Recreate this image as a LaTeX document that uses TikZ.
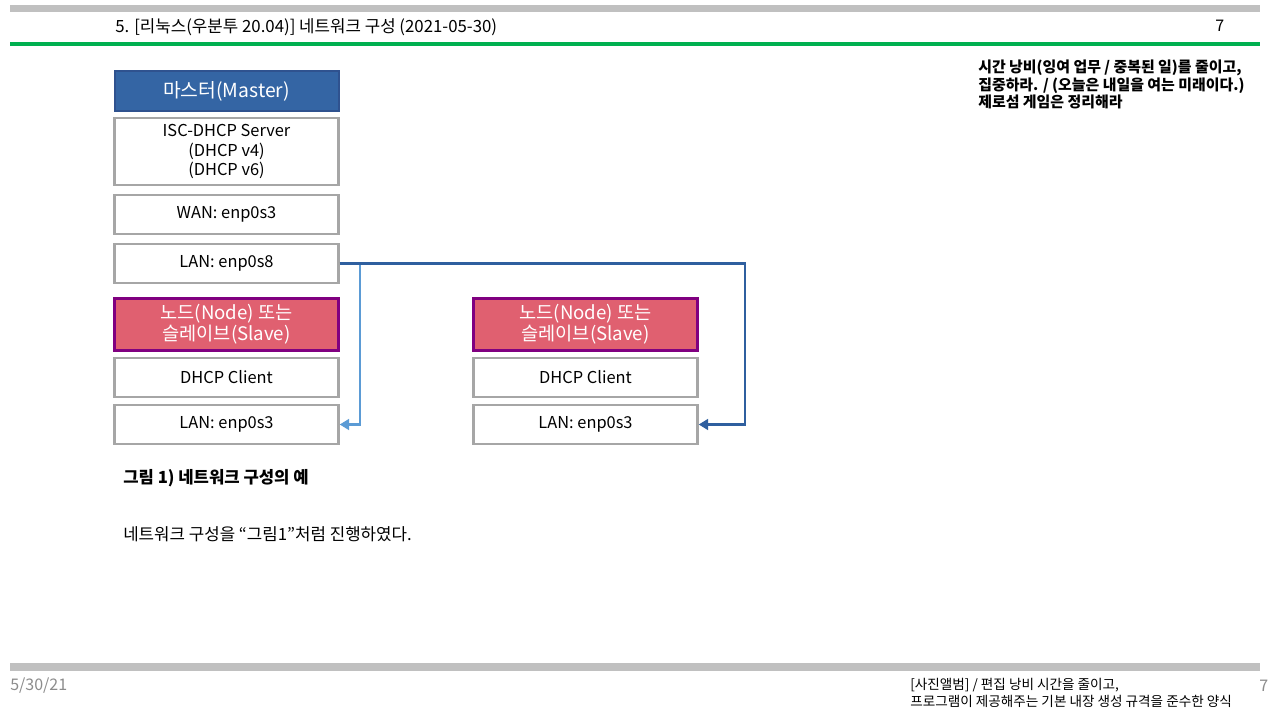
\documentclass[tikz,border=0pt]{standalone}
\usepackage{fontspec}
\setmainfont{Noto Sans CJK KR}
\usetikzlibrary{arrows.meta}
\definecolor{barg}{HTML}{C0C0C0}
\definecolor{grn}{HTML}{00B050}
\definecolor{mblue}{HTML}{3465A4}
\definecolor{mblueb}{HTML}{2F528F}
\definecolor{sred}{HTML}{E06070}
\definecolor{spurp}{HTML}{800080}
\definecolor{boxg}{HTML}{A6A6A6}
\definecolor{dblue}{HTML}{2F5F9F}
\definecolor{lblue}{HTML}{5B9BD5}
\definecolor{footg}{HTML}{8C8C8C}
\tikzset{
  box/.style={draw=boxg, line width=1.8pt, fill=white, minimum width=168pt, align=center, font=\fontsize{12.3}{14.3}\selectfont, inner sep=0pt},
  master/.style={draw=mblueb, line width=1.5pt, fill=mblue, text=white, minimum width=168pt, minimum height=30pt, align=center, font=\fontsize{14.5}{16}\selectfont, inner sep=0pt},
  slave/.style={draw=spurp, line width=2.2pt, fill=sred, text=white, minimum width=168pt, minimum height=39.5pt, align=center, font=\fontsize{14}{16}\selectfont, inner sep=0pt},
  conn/.style={line width=2.2pt, -{Triangle[length=7pt,width=8pt]}},
  txt/.style={inner sep=0pt, anchor=west},
}
\begin{document}
\begin{tikzpicture}[x=0.75pt,y=-0.75pt]
\useasboundingbox (0,0) rectangle (1280,720);
\fill[white] (0,0) rectangle (1280,720);
% header
\fill[barg] (10,5) rectangle (1260,12);
\fill[grn] (10,42) rectangle (1260,46);
\node[txt, font=\fontsize{12.6}{14}\selectfont] (title) at (115,27) {5. [리눅스(우분투 20.04)] 네트워크 구성 (2021-05-30)};
\node[txt, font=\fontsize{12}{14}\selectfont] (pnum) at (1215,26) {7};
% right note
\node[txt, anchor=north west, align=left, font=\bfseries\fontsize{11.2}{13.1}\selectfont] (note) at (978,60) {시간 낭비(잉여 업무 / 중복된 일)를 줄이고,\\집중하라. / (오늘은 내일을 여는 미래이다.)\\제로섬 게임은 정리해라};
% master column
\node[master] (m) at (226.5,91) {마스터(Master)};
\node[box, minimum height=50pt] (isc) at (226.5,151.5) {ISC-DHCP Server\\(DHCP v4)\\(DHCP v6)};
\node[box, minimum height=29.5pt] (wan) at (226.5,214.5) {WAN: enp0s3};
\node[box, minimum height=29.5pt] (lanm) at (226.5,263.5) {LAN: enp0s8};
% slave left
\node[slave] (s1) at (226.5,324.5) {노드(Node) 또는\\슬레이브(Slave)};
\node[box, minimum height=29.5pt] (d1) at (226.5,377.5) {DHCP Client};
\node[box, minimum height=29.5pt] (l1) at (226.5,424.5) {LAN: enp0s3};
% slave right
\node[slave] (s2) at (585.5,324.5) {노드(Node) 또는\\슬레이브(Slave)};
\node[box, minimum height=29.5pt] (d2) at (585.5,377.5) {DHCP Client};
\node[box, minimum height=29.5pt] (l2) at (585.5,424.5) {LAN: enp0s3};
% connectors
\coordinate (c1) at (745,263.5);
\coordinate (c2) at (360,263.5);
\draw[conn, lblue] (c2) |- (l1.east);
\draw[conn, dblue] (lanm.east) -- (c1) |- (l2.east);
% captions
\node[txt, font=\bfseries\fontsize{12.5}{14}\selectfont] (cap) at (123,478) {그림 1) 네트워크 구성의 예};
\node[txt, font=\fontsize{12.6}{14}\selectfont] (body) at (123,534) {네트워크 구성을 “그림1”처럼 진행하였다.};
% footer
\fill[barg] (10,663) rectangle (1260,671);
\node[txt, text=footg, font=\fontsize{12}{14}\selectfont] (date) at (10,686) {5/30/21};
\node[txt, anchor=north west, align=left, font=\fontsize{10.2}{12.7}\selectfont] (foot) at (910,678) {[사진앨범] / 편집 낭비 시간을 줄이고,\\프로그램이 제공해주는 기본 내장 생성 규격을 준수한 양식};
\node[txt, text=footg, font=\fontsize{12}{14}\selectfont] (fnum) at (1259,686) {7};
\end{tikzpicture}
\end{document}
